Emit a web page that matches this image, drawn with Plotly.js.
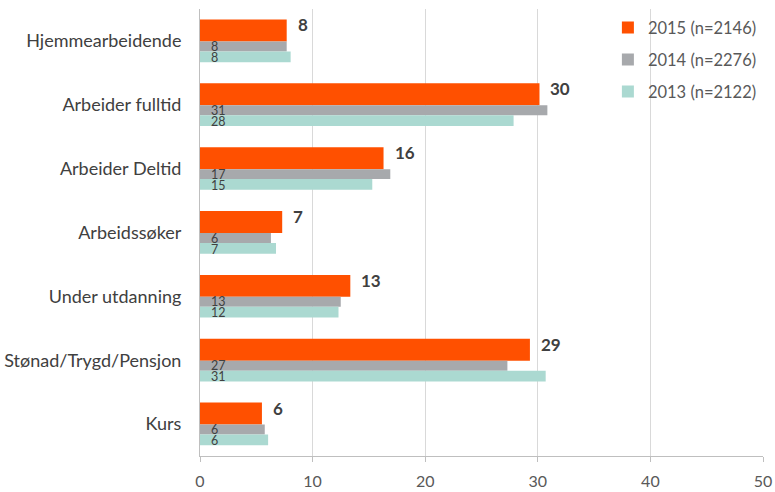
<!DOCTYPE html>
<html>
<head>
<meta charset="utf-8">
<script src="https://cdn.plot.ly/plotly-3.0.1.min.js"></script>
<style>html,body{margin:0;padding:0;background:#fff;}#chart{width:775px;height:492px;}</style>
</head>
<body>
<div id="chart"></div>
<script>
var categories = ["Hjemmearbeidende", "Arbeider fulltid", "Arbeider Deltid", "Arbeidssøker", "Under utdanning", "Stønad/Trygd/Pensjon", "Kurs"];
var seriesNames = ["2015 (n=2146)", "2014 (n=2276)", "2013 (n=2122)"];
var values2015 = [7.7, 30.15, 16.3, 7.3, 13.35, 29.3, 5.5];
var values2014 = [7.7, 30.85, 16.9, 6.3, 12.5, 27.3, 5.75];
var values2013 = [8.05, 27.85, 15.3, 6.75, 12.3, 30.7, 6.05];
var labels2015 = ["8", "30", "16", "7", "13", "29", "6"];
var labels2014 = ["8", "31", "17", "6", "13", "27", "6"];
var labels2013 = ["8", "28", "15", "7", "12", "31", "6"];
var xTicks = [0, 10, 20, 30, 40, 50];

var FONT = "Lato, 'Liberation Sans', Arial, sans-serif";

function barTrace(name, vals, color, offset, width, group) {
  return {
    type: "bar", orientation: "h", name: name,
    y: categories, x: vals,
    marker: {color: color, line: {width: 0}},
    offset: offset, width: width,
    legendgroup: group,
    hoverinfo: "x+name"
  };
}

var data = [
  barTrace(seriesNames[0], values2015, "#FF5000", -0.336, 0.344, "g1"),
  barTrace(seriesNames[1], values2014, "#A7A9AC", 0.008, 0.156, "g2"),
  barTrace(seriesNames[2], values2013, "#ABD9D1", 0.164, 0.168, "g3")
];

var annotations = [];
for (var i = 0; i < categories.length; i++) {
  annotations.push({
    x: values2015[i], y: categories[i], xref: "x", yref: "y",
    text: labels2015[i], showarrow: false, xanchor: "left", yanchor: "middle",
    xshift: 9, yshift: 16,
    font: {family: FONT, size: 17, color: "#404040", weight: "bold"}
  });
  annotations.push({
    x: 0, y: categories[i], xref: "x", yref: "y",
    text: labels2014[i], showarrow: false, xanchor: "left", yanchor: "middle",
    xshift: 10, yshift: -5.5, borderpad: 0,
    font: {family: FONT, size: 12.5, color: "#404040"}
  });
  annotations.push({
    x: 0, y: categories[i], xref: "x", yref: "y",
    text: labels2013[i], showarrow: false, xanchor: "left", yanchor: "middle",
    xshift: 10, yshift: -16.5, borderpad: 0,
    font: {family: FONT, size: 12.5, color: "#404040"}
  });
}

var layout = {
  width: 775, height: 492,
  margin: {l: 200, r: 12, t: 8.5, b: 35.5, pad: 0},
  paper_bgcolor: "#ffffff", plot_bgcolor: "#ffffff",
  barmode: "overlay",
  showlegend: true,
  legend: {
    x: 0.7245, y: 0.997, xanchor: "left", yanchor: "top",
    bgcolor: "rgba(255,255,255,0)",
    font: {family: FONT, size: 16.5, color: "#595959"},
    traceorder: "grouped", tracegroupgap: 7.5,
    itemwidth: 30
  },
  xaxis: {
    range: [0, 50], tickvals: xTicks, ticktext: xTicks.map(String),
    showgrid: true, gridcolor: "#D9D9D9", gridwidth: 1,
    zeroline: false,
    showline: true, linecolor: "#BFBFBF", linewidth: 1,
    ticks: "outside", ticklen: 5, tickcolor: "#BFBFBF",
    ticklabelstandoff: 6,
    tickfont: {family: FONT, size: 16, color: "#595959"},
    fixedrange: true
  },
  yaxis: {
    type: "category",
    range: [6.5, -0.5],
    showgrid: false, zeroline: false,
    showline: true, linecolor: "#BFBFBF", linewidth: 1,
    ticks: "", ticklabelstandoff: 14,
    tickfont: {family: FONT, size: 18, color: "#404040"},
    fixedrange: true
  },
  annotations: annotations
};

Plotly.newPlot("chart", data, layout, {displayModeBar: false, staticPlot: true});
</script>
</body>
</html>
